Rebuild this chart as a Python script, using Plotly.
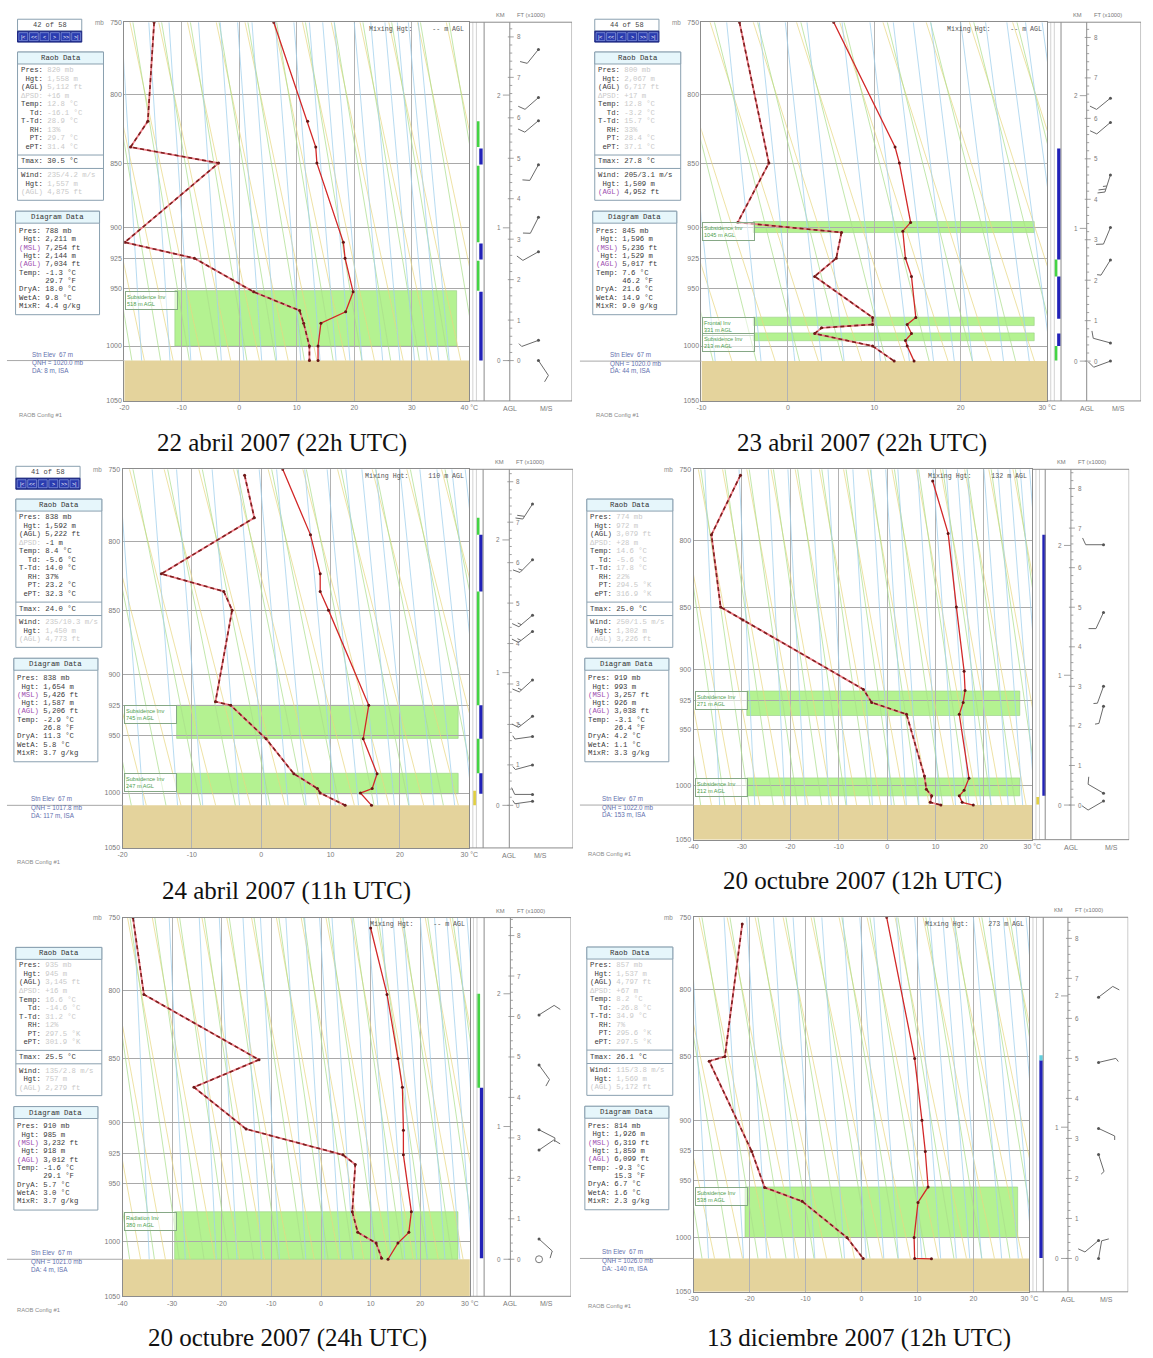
import numpy as np
import plotly.graph_objects as go

W, H = 1153, 1358
MONO = "Liberation Mono"
SANS = "Liberation Sans"
SERIF = "Liberation Serif"

P_TOP, P_BOT = 750.0, 1050.0
LN_RANGE = np.log(P_BOT / P_TOP)
PRESSURE_TICKS = [750, 800, 850, 900, 925, 950, 1000, 1050]
SCALE_HEIGHT_M = 8480.0

CAPTIONS = ["22 abril 2007 (22h UTC)", "23 abril 2007 (22h UTC)", "24 abril 2007 (11h UTC)",
            "20 octubre 2007 (12h UTC)", "20 octubre 2007 (24h UTC)", "13 diciembre 2007 (12h UTC)"]

# ---------------- panel 1 : 22 abril 2007 22h ----------------
p1_temp_p = [750, 819, 838, 850, 912, 925, 953, 970, 980, 1000, 1013]
p1_temp = [6.0, 11.9, 13.3, 13.5, 18.1, 18.4, 19.8, 18.5, 14.2, 13.7, 13.7]
p1_dew_p = [750, 819, 838, 850, 912, 925, 953, 969, 980, 1000, 1013]
p1_dew = [-14.8, -15.9, -18.9, -3.6, -19.9, -7.8, 2.5, 10.5, 11.2, 12.2, 12.2]
p1_inv_top = [952]
p1_inv_bot = [1000]
p1_inv_tmin = [-11.2]
p1_inv_tmax = [37.8]
p1_inv_text = ["Subsidence Inv<br>518 m AGL"]
p1_strip_top = [819, 839, 852, 913, 927, 953]
p1_strip_bot = [838, 851, 912, 926, 952, 1013]
p1_strip_kind = ["g", "b", "g", "b", "g", "b"]
p1_wind_h = [7.69, 6.5, 5.93, 4.84, 3.54, 2.69, 0.5, 0.0]
p1_wind_dir = [219, 229, 230, 209, 207, 241, 250, 146]
p1_wind_spd = [10, 10, 10, 10, 10, 10, 5, 10]
p1_raob = ["820 mb", "1,558 m", "5,112 ft", "+16 m", "12.8 °C", "-16.1 °C", "28.9 °C", "13%", "29.7 °C", "31.4 °C"]
p1_windtxt = ["235/4.2 m/s", "1,557 m", "4,875 ft"]
p1_diag = ["788 mb", "2,211 m", "7,254 ft", "2,144 m", "7,034 ft", "-1.3 °C", "29.7 °F", "18.0 °C", "9.8 °C", "4.4 g/kg"]

# ---------------- panel 2 : 23 abril 2007 22h ----------------
p2_temp_p = [750, 838, 850, 896, 903, 925, 940, 975, 981, 989, 995, 1000, 1013.5]
p2_temp = [5.3, 12.4, 12.9, 14.2, 13.3, 13.6, 14.3, 14.8, 13.8, 14.3, 13.6, 13.8, 14.6]
p2_dew_p = [750, 850, 896, 904, 925, 940, 975, 981, 984, 989, 1000, 1013.5]
p2_dew = [-5.6, -2.2, -5.8, 6.2, 5.6, 3.1, 9.8, 9.8, 3.9, 3.1, 9.8, 12.3]
p2_inv_top = [895.3, 974.7, 988.4]
p2_inv_bot = [904.1, 982.0, 995.3]
p2_inv_tmin = [-4.0, -4.0, -4.0]
p2_inv_tmax = [28.5, 28.5, 28.5]
p2_inv_text = ["Subsidence Inv<br>1045 m AGL", "Frontal Inv<br>331 m AGL", "Subsidence Inv<br>213 m AGL"]
p2_strip_top = [839, 926, 940, 989, 1000]
p2_strip_bot = [926, 940, 976, 1000, 1013]
p2_strip_kind = ["b", "g", "b", "b", "g"]
p2_wind_h = [6.5, 5.9, 4.6, 3.3, 2.5, 0.45, 0.0]
p2_wind_dir = [231, 230, 198, 203, 212, 285, 250]
p2_wind_spd = [10, 10, 25, 10, 5, 10, 10]
p2_raob = ["800 mb", "2,067 m", "6,717 ft", "+17 m", "12.8 °C", "-3.2 °C", "15.7 °C", "33%", "28.4 °C", "37.1 °C"]
p2_windtxt = ["205/3.1 m/s", "1,509 m", "4,952 ft"]
p2_diag = ["845 mb", "1,596 m", "5,236 ft", "1,529 m", "5,017 ft", "7.6 °C", "46.2 °F", "21.6 °C", "14.9 °C", "9.0 g/kg"]

# ---------------- panel 3 : 24 abril 2007 11h ----------------
p3_temp_p = [750, 795, 823, 836, 850, 925, 953, 983, 996, 1000, 1011]
p3_temp = [3.1, 7.1, 8.5, 8.5, 9.7, 15.5, 14.7, 16.7, 16.0, 14.3, 15.9]
p3_dew_p = [754, 783, 823, 836, 850, 922, 925, 953, 983, 996, 1000, 1011]
p3_dew = [-2.4, -1.0, -14.4, -5.4, -4.2, -6.6, -4.4, 0.7, 4.7, 8.1, 8.5, 12.1]
p3_inv_top = [925, 982.6]
p3_inv_bot = [952.6, 1000.7]
p3_inv_tmin = [-12.2, -12.2]
p3_inv_tmax = [28.4, 28.4]
p3_inv_text = ["Subsidence Inv<br>745 m AGL", "Subsidence Inv<br>247 m AGL"]
p3_strip_top = [783, 795, 836, 925, 953, 982.6, 998]
p3_strip_bot = [795, 836, 925, 953, 982.6, 1000.7, 1011]
p3_strip_kind = ["g", "b", "g", "b", "g", "b", "y"]
p3_wind_h = [7.45, 6.07, 4.7, 4.3, 3.1, 2.2, 1.7, 1.0, 0.27, 0.1]
p3_wind_dir = [213, 225, 230, 232, 228, 232, 262, 255, 270, 262]
p3_wind_spd = [20, 15, 15, 15, 15, 15, 5, 5, 10, 5]
p3_raob = ["838 mb", "1,592 m", "5,222 ft", "-1 m", "8.4 °C", "-5.6 °C", "14.0 °C", "37%", "23.2 °C", "32.3 °C"]
p3_windtxt = ["235/10.3 m/s", "1,450 m", "4,773 ft"]
p3_diag = ["838 mb", "1,654 m", "5,426 ft", "1,587 m", "5,206 ft", "-2.9 °C", "26.8 °F", "11.3 °C", "5.8 °C", "3.7 g/kg"]

# ---------------- panel 4 : 20 octubre 2007 12h ----------------
p4_temp_p = [758, 795, 850, 901, 917, 927, 937, 993, 1004, 1009, 1015, 1017.5]
p4_temp = [9.4, 12.6, 14.3, 15.9, 16.1, 15.7, 14.9, 16.9, 15.9, 14.9, 15.5, 17.8]
p4_dew_p = [754, 796, 850, 860, 916, 927, 937, 991, 1003, 1009, 1015, 1017.5]
p4_dew = [-30.3, -36.3, -34.4, -29.8, -4.9, -3.2, 4.0, 7.7, 8.1, 9.2, 8.9, 11.1]
p4_inv_top = [917.4, 992.7]
p4_inv_bot = [938.0, 1009.0]
p4_inv_tmin = [-29.0, -29.0]
p4_inv_tmax = [27.4, 27.4]
p4_inv_text = ["Subsidence Inv<br>271 m AGL", "Subsidence Inv<br>212 m AGL"]
p4_strip_top = [796, 1010]
p4_strip_bot = [1009, 1017]
p4_strip_kind = ["b", "y"]
p4_wind_h = [6.58, 4.87, 3.0, 2.5, 0.3, 0.1]
p4_wind_dir = [270, 205, 200, 195, 300, 240]
p4_wind_spd = [10, 10, 5, 5, 10, 10]
p4_raob = ["774 mb", "972 m", "3,079 ft", "+28 m", "14.6 °C", "-5.6 °C", "17.8 °C", "22%", "294.5 °K", "316.9 °K"]
p4_windtxt = ["250/1.5 m/s", "1,302 m", "3,226 ft"]
p4_diag = ["919 mb", "993 m", "3,257 ft", "926 m", "3,038 ft", "-3.1 °C", "26.4 °F", "4.2 °C", "1.1 °C", "3.3 g/kg"]

# ---------------- panel 5 : 20 octubre 2007 24h ----------------
p5_temp_p = [757, 803, 850, 872, 906, 926, 974, 992, 1001.5, 1016]
p5_temp = [10.0, 13.3, 15.5, 16.4, 16.6, 16.6, 18.2, 17.7, 15.5, 13.5]
p5_dew_p = [750, 803, 851, 872, 905, 926, 934, 974, 992, 1001.5, 1015]
p5_dew = [-37.9, -35.7, -12.5, -25.6, -15.1, 4.4, 6.9, 6.3, 7.4, 11.1, 12.2]
p5_inv_top = [974]
p5_inv_bot = [1016]
p5_inv_tmin = [-29.5]
p5_inv_tmax = [27.6]
p5_inv_text = ["Radiation Inv<br>380 m AGL"]
p5_strip_top = [802.6, 872.4]
p5_strip_bot = [872.4, 1015]
p5_strip_kind = ["g", "b"]
p5_wind_h = [6.04, 4.8, 3.2, 2.7, 0.5, 0.0]
p5_wind_dir = [58, 144, 117, 56, 132, 0]
p5_wind_spd = [10, 10, 5, 10, 10, 0]
p5_raob = ["935 mb", "945 m", "3,145 ft", "+16 m", "16.6 °C", "-14.6 °C", "31.2 °C", "12%", "297.5 °K", "301.9 °K"]
p5_windtxt = ["135/2.8 m/s", "757 m", "2,279 ft"]
p5_diag = ["910 mb", "985 m", "3,232 ft", "918 m", "3,012 ft", "-1.6 °C", "29.1 °F", "5.7 °C", "3.0 °C", "3.7 g/kg"]

# ---------------- panel 6 : 13 diciembre 2007 12h ----------------
p6_temp_p = [750, 851.5, 900, 925.6, 955.6, 969, 1000, 1019, 1019.3]
p6_temp = [4.5, 9.5, 10.8, 11.4, 11.9, 10.1, 9.4, 9.5, 12.5]
p6_dew_p = [754.5, 850, 853.5, 925.6, 956, 968, 1000, 1019]
p6_dew = [-21.3, -24.4, -27.2, -19.6, -17.3, -10.6, -2.6, 0.3]
p6_inv_top = [955.6]
p6_inv_bot = [1000]
p6_inv_tmin = [-20.8]
p6_inv_tmax = [27.9]
p6_inv_text = ["Subsidence Inv<br>538 m AGL"]
p6_strip_top = [852.7, 849]
p6_strip_bot = [1018.5, 853]
p6_strip_kind = ["b", "c"]
p6_wind_h = [6.53, 4.9, 3.25, 2.6, 0.45, 0.0]
p6_wind_dir = [53, 77, 115, 162, 230, 10]
p6_wind_spd = [10, 5, 5, 5, 10, 10]
p6_raob = ["857 mb", "1,537 m", "4,797 ft", "+67 m", "8.2 °C", "-26.8 °C", "34.9 °C", "7%", "295.6 °K", "297.5 °K"]
p6_windtxt = ["115/3.8 m/s", "1,569 m", "5,172 ft"]
p6_diag = ["814 mb", "1,926 m", "6,319 ft", "1,859 m", "6,099 ft", "-9.3 °C", "15.3 °F", "6.7 °C", "1.6 °C", "2.3 g/kg"]

RAOB_LABELS = ["Pres:", " Hgt:", "(AGL)", "ΔPSD:", "Temp:", "  Td:", "T-Td:", "  RH:", "  PT:", " ePT:"]
WIND_LABELS = ["Wind:", " Hgt:", "(AGL)"]
DIAG_LABELS = ["Pres:", " Hgt:", "(MSL)", " Hgt:", "(AGL)", "Temp:", "", "DryA:", "WetA:", "MixR:"]

# diagram template guide lines (background): start temperatures at 1050 mb and their drift to 750 mb
GUIDE_A_T1050 = np.arange(-75, 75, 5.0)     # yellow family
GUIDE_A_DRIFT = 14.0
GUIDE_B_T1050 = np.arange(-72.5, 75, 5.0)   # green family
GUIDE_B_DRIFT = 11.0
MIXING_RATIOS = [0.01, 0.02, 0.04, 0.07, 0.1, 0.2, 0.4, 0.7, 1, 1.5, 2, 3, 4, 5, 6, 8, 10, 12, 14, 16,
                 20, 24, 28, 32, 36, 40]

# --------------------------- geometry (pixels) ---------------------------
panels = [
    dict(L=120.7, R=470.0, T=18.3, B=399.0, xr=(-20, 40), side_w=104, strip_w=15, agl=41, ms=78, x0=0,
         cap=(280, 441), nav="42 of 58", tmax="30.5 °C", mix="--", qnh="1020.0", da="8",
         psfc=1013, raob_dark=False, wind_dark=False,
         data=(p1_temp_p, p1_temp, p1_dew_p, p1_dew),
         inv=(p1_inv_top, p1_inv_bot, p1_inv_tmin, p1_inv_tmax, p1_inv_text),
         strip=(p1_strip_top, p1_strip_bot, p1_strip_kind),
         wind=(p1_wind_h, p1_wind_dir, p1_wind_spd),
         text=(p1_raob, p1_windtxt, p1_diag)),
    dict(L=705.0, R=1055.0, T=18.3, B=399.0, xr=(-10, 30), side_w=95, strip_w=14, agl=40, ms=72, x0=580,
         cap=(868, 441), nav="44 of 58", tmax="27.8 °C", mix="--", qnh="1020.0", da="44",
         psfc=1013.5, raob_dark=False, wind_dark=True,
         data=(p2_temp_p, p2_temp, p2_dew_p, p2_dew),
         inv=(p2_inv_top, p2_inv_bot, p2_inv_tmin, p2_inv_tmax, p2_inv_text),
         strip=(p2_strip_top, p2_strip_bot, p2_strip_kind),
         wind=(p2_wind_h, p2_wind_dir, p2_wind_spd),
         text=(p2_raob, p2_windtxt, p2_diag)),
    dict(L=119.0, R=470.0, T=467.7, B=848.3, xr=(-20, 30), side_w=105, strip_w=14, agl=40.5, ms=72, x0=0,
         cap=(285, 892), nav="41 of 58", tmax="24.0 °C", mix="110", qnh="1017.8", da="117",
         psfc=1011, raob_dark=True, wind_dark=False,
         data=(p3_temp_p, p3_temp, p3_dew_p, p3_dew),
         inv=(p3_inv_top, p3_inv_bot, p3_inv_tmin, p3_inv_tmax, p3_inv_text),
         strip=(p3_strip_top, p3_strip_bot, p3_strip_kind),
         wind=(p3_wind_h, p3_wind_dir, p3_wind_spd),
         text=(p3_raob, p3_windtxt, p3_diag)),
    dict(L=697.0, R=1040.0, T=467.7, B=840.0, xr=(-40, 30), side_w=98, strip_w=13, agl=39, ms=80, x0=580,
         cap=(868, 882), nav=None, tmax="25.0 °C", mix="132", qnh="1022.0", da="153",
         psfc=1017.5, raob_dark=False, wind_dark=False,
         data=(p4_temp_p, p4_temp, p4_dew_p, p4_dew),
         inv=(p4_inv_top, p4_inv_bot, p4_inv_tmin, p4_inv_tmax, p4_inv_text),
         strip=(p4_strip_top, p4_strip_bot, p4_strip_kind),
         wind=(p4_wind_h, p4_wind_dir, p4_wind_spd),
         text=(p4_raob, p4_windtxt, p4_diag)),
    dict(L=119.0, R=470.6, T=918.3, B=1299.0, xr=(-40, 30), side_w=102.4, strip_w=14.4, agl=41, ms=78, x0=0,
         cap=(286, 1341), nav=None, tmax="25.5 °C", mix="--", qnh="1021.0", da="4",
         psfc=1016, raob_dark=False, wind_dark=False,
         data=(p5_temp_p, p5_temp, p5_dew_p, p5_dew),
         inv=(p5_inv_top, p5_inv_bot, p5_inv_tmin, p5_inv_tmax, p5_inv_text),
         strip=(p5_strip_top, p5_strip_bot, p5_strip_kind),
         wind=(p5_wind_h, p5_wind_dir, p5_wind_spd),
         text=(p5_raob, p5_windtxt, p5_diag)),
    dict(L=697.0, R=1037.0, T=918.0, B=1294.5, xr=(-30, 30), side_w=100, strip_w=14, agl=39, ms=78, x0=580,
         cap=(864, 1341), nav=None, tmax="26.1 °C", mix="273", qnh="1026.0", da="-140",
         psfc=1019, raob_dark=False, wind_dark=False,
         data=(p6_temp_p, p6_temp, p6_dew_p, p6_dew),
         inv=(p6_inv_top, p6_inv_bot, p6_inv_tmin, p6_inv_tmax, p6_inv_text),
         strip=(p6_strip_top, p6_strip_bot, p6_strip_kind),
         wind=(p6_wind_h, p6_wind_dir, p6_wind_spd),
         text=(p6_raob, p6_windtxt, p6_diag)),
]

STRIP_STYLE = {"b": ("#2222b8", 11.8), "g": ("#44d444", 8.6), "y": ("#e2d040", 5.5), "c": ("#60d0e0", 11.8)}

fig = go.Figure()
shapes, annots, layout_axes = [], [], {}


def px(x):
    return x / W


def py(y):
    return 1 - y / H


def ptext(x, y, text, size=7.3, color="#333", family=MONO, xa="left", ya="middle"):
    annots.append(dict(x=px(x), y=py(y), xref="paper", yref="paper", text=text, showarrow=False,
                       font=dict(size=size, color=color, family=family), xanchor=xa, yanchor=ya,
                       borderpad=0))


def prect(x0, y0, x1, y1, line="#8aa0b0", fill="rgba(0,0,0,0)", lw=1):
    shapes.append(dict(type="rect", xref="paper", yref="paper", x0=px(x0), x1=px(x1),
                       y0=py(y1), y1=py(y0), line=dict(color=line, width=lw), fillcolor=fill))


def pline(x0, y0, x1, y1, color="#8aa0b0", lw=1):
    shapes.append(dict(type="line", xref="paper", yref="paper", x0=px(x0), x1=px(x1),
                       y0=py(y0), y1=py(y1), line=dict(color=color, width=lw)))


def axn(kind, i):
    return f"{kind}axis" if i == 1 else f"{kind}axis{i}"


def axr(kind, i):
    return kind if i == 1 else f"{kind}{i}"


def join(curves_x, curves_y):
    xs, ys = [], []
    for cx, cy in zip(curves_x, curves_y):
        xs += list(cx) + [None]
        ys += list(cy) + [None]
    return xs, ys


def html_line(label, value, lab_col, val_col):
    lab = label.ljust(6).replace(" ", "\u00a0")
    val = value.replace(" ", "\u00a0")
    return f"<span style='color:{lab_col}'>{lab}</span><span style='color:{val_col}'>{val}</span>"


FAINT = "#c9c9c9"
DARK = "#3a3a3a"
PURPLE = "#a050b0"

for i, pn in enumerate(panels):
    m, s = 2 * i + 1, 2 * i + 2
    L, R, T, B = pn["L"], pn["R"], pn["T"], pn["B"]
    xmin, xmax = pn["xr"]
    ppl = (B - T) / LN_RANGE  # pixels per unit ln p
    psfc = pn["psfc"]
    xm, ym, xs_, ys_ = axr("x", m), axr("y", m), axr("x", s), axr("y", s)
    ydom = [py(B), py(T)]
    yrange = [np.log10(P_BOT), np.log10(P_TOP)]
    tickv = list(range(xmin, xmax + 1, 10))
    tickt = [str(v) for v in tickv]
    tickt[-1] = tickt[-1] + " °C"
    layout_axes[axn("x", m)] = dict(domain=[px(L), px(R)], range=[xmin, xmax], anchor=ym,
                                    tickvals=tickv, ticktext=tickt, showgrid=True, gridcolor="#b3b3b3",
                                    gridwidth=1, zeroline=False, showline=True, linecolor="#8c8c8c",
                                    linewidth=1, mirror=True, ticks="",
                                    tickfont=dict(size=7, color="#7a7a7a", family=SANS))
    layout_axes[axn("y", m)] = dict(domain=ydom, type="log", range=yrange, anchor=xm,
                                    tickvals=PRESSURE_TICKS, ticktext=[str(v) for v in PRESSURE_TICKS],
                                    showgrid=True, gridcolor="#a9a9a9", gridwidth=1, zeroline=False,
                                    showline=True, linecolor="#8c8c8c", linewidth=1, mirror=True,
                                    ticks="", tickfont=dict(size=7, color="#7a7a7a", family=SANS))
    sw = pn["side_w"]
    layout_axes[axn("x", s)] = dict(domain=[px(R), px(R + sw)], range=[0, sw], anchor=ys_, visible=False)
    layout_axes[axn("y", s)] = dict(domain=ydom, type="log", range=yrange, anchor=xs_, visible=False)

    # --- ground and inversion layers (below grid) ---
    shapes.append(dict(type="rect", xref=xm, yref=ym, x0=xmin, x1=xmax, y0=psfc, y1=P_BOT,
                       fillcolor="rgb(228,211,156)", line=dict(width=0), layer="below"))
    it, ib, itn, itx, itext = pn["inv"]
    for a, b_, c, d, txt in zip(it, ib, itn, itx, itext):
        shapes.append(dict(type="rect", xref=xm, yref=ym, x0=c, x1=d, y0=a, y1=b_,
                           fillcolor="rgb(180,242,145)", line=dict(width=0.6, color="rgb(150,205,130)"),
                           layer="below"))
        annots.append(dict(x=xmin, y=np.log10(a), xref=xm, yref=ym, text=txt, showarrow=False,
                           xanchor="left", yanchor="top", align="left", width=49, height=15,
                           bgcolor="rgba(255,255,255,0.55)", bordercolor="#86a886", borderwidth=1,
                           borderpad=1, font=dict(size=5.6, color="#4e9e4e", family=SANS), xshift=1))

    # --- background guide lines of the diagram template ---
    pg = np.geomspace(P_TOP, psfc, 40)
    frac = np.log(P_BOT / pg) / LN_RANGE   # 0 at 1050 mb, 1 at 750 mb
    fam_a = [t0 - GUIDE_A_DRIFT * frac for t0 in GUIDE_A_T1050]
    fam_b = [t0 - GUIDE_B_DRIFT * frac for t0 in GUIDE_B_T1050]
    mix_x = []
    for w in MIXING_RATIOS:
        e = (w / 1000.0) * pg / (0.622 + w / 1000.0)
        lnr = np.log(e / 6.112)
        mix_x.append(243.5 * lnr / (17.67 - lnr))
    for fam, col in ((fam_a, "rgba(232,214,130,0.8)"), (fam_b, "rgba(170,222,140,0.8)"),
                     (mix_x, "rgba(160,208,236,0.85)")):
        bx, by = join(fam, [pg] * len(fam))
        fig.add_trace(go.Scatter(x=bx, y=by, mode="lines", line=dict(color=col, width=0.9),
                                 xaxis=xm, yaxis=ym, hoverinfo="skip", showlegend=False))

    # --- sounding ---
    tp, tt, dp, dd = pn["data"]
    fig.add_trace(go.Scatter(x=dd, y=dp, mode="lines", line=dict(color="rgb(236,125,135)", width=1.8),
                             xaxis=xm, yaxis=ym, hoverinfo="skip", showlegend=False))
    fig.add_trace(go.Scatter(x=dd, y=dp, mode="lines+markers",
                             line=dict(color="rgb(125,30,30)", width=1.6, dash="4px,3px"),
                             marker=dict(size=3, color="rgb(110,25,25)"),
                             xaxis=xm, yaxis=ym, hoverinfo="skip", showlegend=False))
    fig.add_trace(go.Scatter(x=tt, y=tp, mode="lines+markers", line=dict(color="rgb(210,40,40)", width=1.3),
                             marker=dict(size=3, color="rgb(100,20,20)"),
                             xaxis=xm, yaxis=ym, hoverinfo="skip", showlegend=False))

    # --- station level line + texts ---
    shapes.append(dict(type="line", xref="paper", yref=ym, x0=px(pn["x0"] + 2), x1=px(L), y0=psfc, y1=psfc,
                       line=dict(color="#a8a8a8", width=1)))
    for txt, dy in (("Stn Elev  67 m", 6.5), (f"QNH = {pn['qnh']} mb", -2.5), (f"DA: {pn['da']} m, ISA", -9.8)):
        annots.append(dict(x=px(L - 94), y=np.log10(psfc), xref="paper", yref=ym, text=txt.replace(" ", "\u00a0"),
                           showarrow=False, xanchor="left", yanchor="middle", yshift=dy, borderpad=0,
                           font=dict(size=6.3, color="#5f6fae", family=SANS)))

    # --- side column: strip, AGL scale, winds ---
    stw, agl, msx = pn["strip_w"], pn["agl"], pn["ms"]
    for xv, col in ((3.6, "#d2d2d2"), (7.2, "#d2d2d2"), (stw, "#8c8c8c"), (agl, "#8c8c8c")):
        shapes.append(dict(type="line", xref=xs_, yref=f"{ys_} domain", x0=xv, x1=xv, y0=0, y1=1,
                           line=dict(color=col, width=1)))
    shapes.append(dict(type="rect", xref=xs_, yref=f"{ys_} domain", x0=0, x1=sw, y0=0, y1=1,
                       line=dict(color="#8c8c8c", width=1)))
    st_top, st_bot, st_kind = pn["strip"]
    for kind in ("y", "g", "b", "c"):
        bxs, bys = [], []
        for a, b_, k in zip(st_top, st_bot, st_kind):
            if k == kind:
                bxs += [STRIP_STYLE[k][1]] * 2 + [None]
                bys += [a, b_, None]
        if bxs:
            fig.add_trace(go.Scatter(x=bxs, y=bys, mode="lines", line=dict(color=STRIP_STYLE[kind][0], width=3.4),
                                     xaxis=xs_, yaxis=ys_, hoverinfo="skip", showlegend=False))

    def h2p(z_m):
        return psfc * np.exp(-z_m / SCALE_HEIGHT_M)

    tx, ty = [], []
    for km in (0, 1, 2):
        pk = h2p(km * 1000)
        tx += [agl - 7, agl, None]
        ty += [pk, pk, None]
        annots.append(dict(x=agl - 8, y=np.log10(pk), xref=xs_, yref=ys_, text=str(km), showarrow=False,
                           xanchor="right", yanchor="middle", borderpad=0,
                           font=dict(size=6.3, color="#7a7a7a", family=SANS)))
    k = 0
    while True:
        pk = h2p(k * 200 * 0.3048)
        if pk < P_TOP + 1:
            break
        if k % 5 == 0:
            tx += [agl - 2, agl + 4, None]
            annots.append(dict(x=agl + 6, y=np.log10(pk), xref=xs_, yref=ys_, text=str(k // 5),
                               showarrow=False, xanchor="left", yanchor="middle", borderpad=0,
                               font=dict(size=6.3, color="#7a7a7a", family=SANS)))
        else:
            tx += [agl, agl + 2.5, None]
        ty += [pk, pk, None]
        k += 1
    fig.add_trace(go.Scatter(x=tx, y=ty, mode="lines", line=dict(color="#8c8c8c", width=0.8),
                             xaxis=xs_, yaxis=ys_, hoverinfo="skip", showlegend=False))
    for txt, xv, xa in (("KM", agl - 4, "right"), ("FT (x1000)", agl + 6, "left")):
        annots.append(dict(x=xv, y=np.log10(P_TOP), xref=xs_, yref=ys_, text=txt, showarrow=False,
                           xanchor=xa, yanchor="bottom", yshift=3, borderpad=0,
                           font=dict(size=5.8, color="#7a7a7a", family=SANS)))
    for txt, xv in (("AGL", agl), ("M/S", msx)):
        annots.append(dict(x=xv, y=np.log10(P_BOT), xref=xs_, yref=ys_, text=txt, showarrow=False,
                           xanchor="center", yanchor="top", yshift=-3, borderpad=0,
                           font=dict(size=7, color="#7a7a7a", family=SANS)))

    # wind barbs
    wh, wdir, wspd = pn["wind"]
    bx, by, stx, sty, cx, cy = [], [], [], [], [], []
    for h, d, sp in zip(wh, wdir, wspd):
        p0 = h2p(h * 304.8)
        if sp == 0:
            cx.append(msx - 8)
            cy.append(p0)
            continue
        th = np.radians(d)
        ux, uy = np.sin(th), np.cos(th)

        def pt(dx, dup):
            return msx - 8 + dx, p0 * np.exp(-dup / ppl)

        stx.append(msx - 8)
        sty.append(p0)
        Ls = 18.0
        a0, a1 = pt(0, 0), pt(Ls * ux, Ls * uy)
        bx += [a0[0], a1[0], None]
        by += [a0[1], a1[1], None]
        fr = np.radians(65)
        fx = ux * np.cos(fr) + uy * np.sin(fr)
        fy = -ux * np.sin(fr) + uy * np.cos(fr)
        n5 = int(round(sp / 5.0))
        full, half = divmod(n5, 2)
        pos = Ls
        for j in range(full + half):
            ln = 7.5 if j < full else 4.0
            q0 = pt(pos * ux, pos * uy)
            q1 = pt(pos * ux + ln * fx, pos * uy + ln * fy)
            bx += [q0[0], q1[0], None]
            by += [q0[1], q1[1], None]
            pos -= 3.2
    fig.add_trace(go.Scatter(x=bx, y=by, mode="lines", line=dict(color="#6a6a6a", width=1),
                             xaxis=xs_, yaxis=ys_, hoverinfo="skip", showlegend=False))
    fig.add_trace(go.Scatter(x=stx, y=sty, mode="markers", marker=dict(size=3, color="#555"),
                             xaxis=xs_, yaxis=ys_, hoverinfo="skip", showlegend=False))
    if cx:
        fig.add_trace(go.Scatter(x=cx, y=cy, mode="markers",
                                 marker=dict(size=7, color="rgba(0,0,0,0)", line=dict(color="#777", width=1)),
                                 xaxis=xs_, yaxis=ys_, hoverinfo="skip", showlegend=False))

    # --- texts on the plot ---
    mixtxt = "Mixing\u00a0Hgt:" + "\u00a0" * 5 + f"{pn['mix']}\u00a0m\u00a0AGL"
    ptext(R - 4, T + 7, mixtxt, size=6.6, color="#555", xa="right")
    ptext(L - 31, T, "mb", size=6.3, color="#8a8a8a", family=SANS)
    ptext(L - 108, B + 14, "RAOB Config #1", size=5.8, color="#8a8a8a", family=SANS)
    ptext(pn["cap"][0], pn["cap"][1], CAPTIONS[i], size=25, color="#111", family=SERIF, xa="center")

    # --- navigation box ---
    if pn["nav"]:
        prect(L - 108, T - 3, L - 43, T + 9, fill="white")
        ptext(L - 75.5, T + 3, pn["nav"], size=7, color="#444", xa="center")
        prect(L - 108, T + 9, L - 43, T + 20, line="#1a2580", fill="#1f2d8f")
        for j, g in enumerate(["|<", "<<", "<", ">", ">>", ">|"]):
            bx0 = L - 107.3 + j * 10.7
            prect(bx0 + 0.6, T + 10.5, bx0 + 9.6, T + 18.5, line="#9fb0ee", fill="#2a3cb0", lw=0.6)
            ptext(bx0 + 5.1, T + 14.5, g, size=5.2, color="white", xa="center", family=SANS)

    # --- Raob Data box ---
    raob_vals, wind_vals, diag_vals = pn["text"]
    x0b, x1b = L - 108, L - 21
    prect(x0b, T + 30, x1b, T + 179, fill="white")
    prect(x0b, T + 30, x1b, T + 42, fill="#e6f6fb")
    ptext((x0b + x1b) / 2, T + 36, "Raob Data", color="#333", xa="center")
    vcol = DARK if pn["raob_dark"] else FAINT
    for j, (lab, val) in enumerate(zip(RAOB_LABELS, raob_vals)):
        lc = FAINT if lab.startswith("Δ") else DARK
        ptext(x0b + 2, T + 48 + j * 8.6, html_line(lab, val, lc, vcol))
    pline(x0b, T + 133.5, x1b, T + 133.5)
    ptext(x0b + 2, T + 140, html_line("Tmax:", pn["tmax"], DARK, DARK))
    pline(x0b, T + 147, x1b, T + 147)
    wcol = DARK if pn["wind_dark"] else FAINT
    for j, (lab, val) in enumerate(zip(WIND_LABELS, wind_vals)):
        lc = DARK if j < 2 else (PURPLE if pn["wind_dark"] else FAINT)
        ptext(x0b + 2, T + 154 + j * 8.5, html_line(lab, val, lc, wcol))

    # --- Diagram Data box ---
    x0d, x1d = L - 110, L - 25
    prect(x0d, T + 190, x1d, T + 294, fill="white")
    prect(x0d, T + 190, x1d, T + 202, fill="#e6f6fb")
    ptext((x0d + x1d) / 2, T + 196, "Diagram Data", color="#333", xa="center")
    for j, (lab, val) in enumerate(zip(DIAG_LABELS, diag_vals)):
        lc = PURPLE if lab in ("(MSL)", "(AGL)") else DARK
        ptext(x0d + 2, T + 210 + j * 8.35, html_line(lab, val, lc, DARK))

fig.update_layout(width=W, height=H, margin=dict(l=0, r=0, t=0, b=0), paper_bgcolor="white",
                  plot_bgcolor="white", showlegend=False, shapes=shapes, annotations=annots, **layout_axes)
fig.write_html("out.html")
